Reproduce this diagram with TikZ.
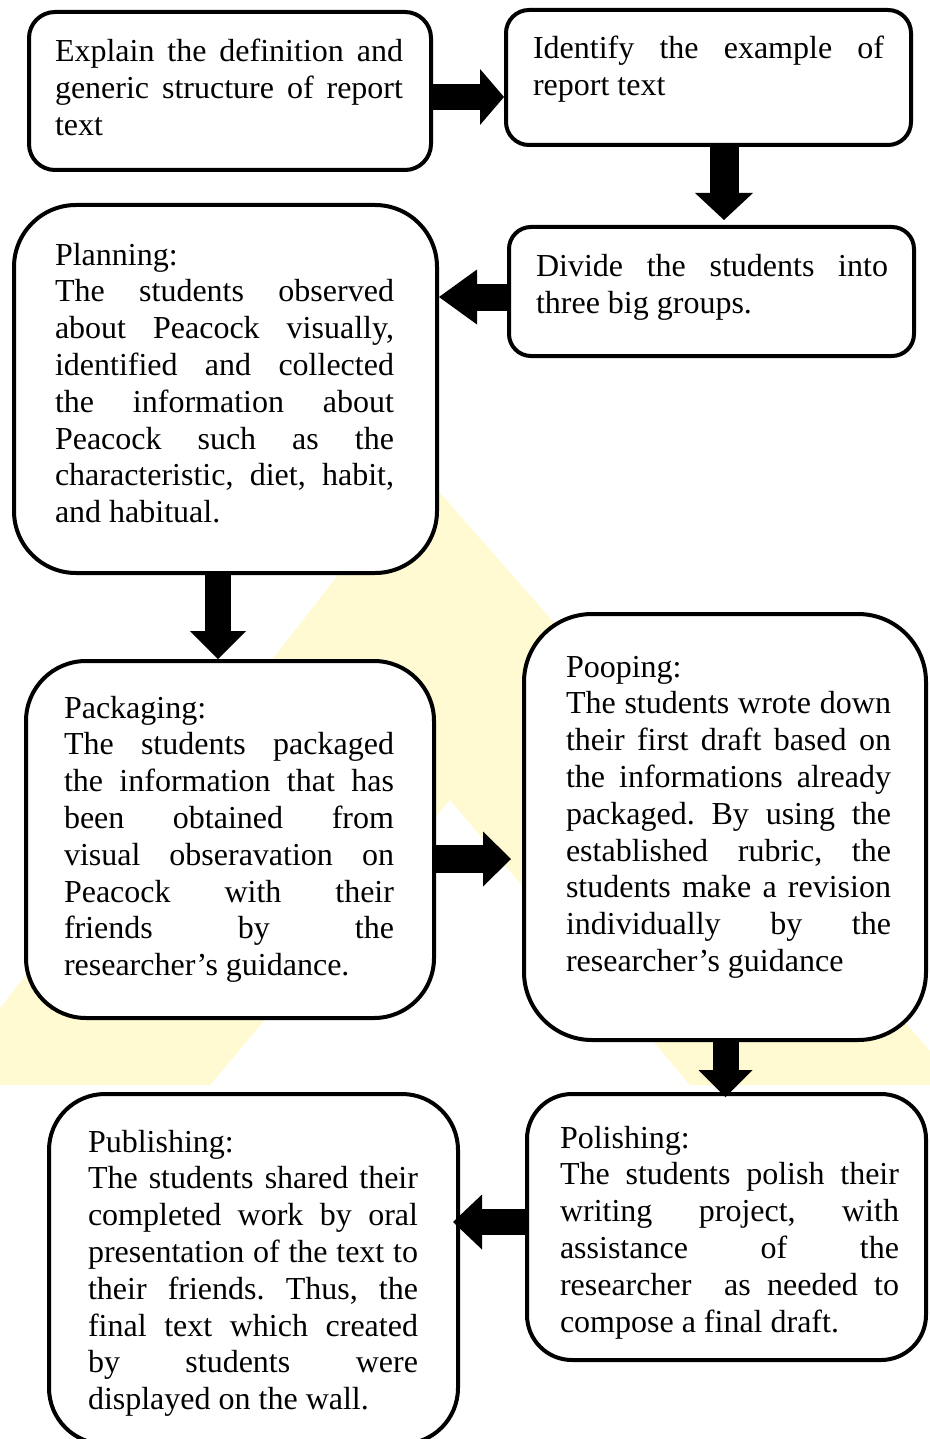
\documentclass[tikz,border=0pt]{standalone}
\usepackage{fontspec}
\setmainfont{Liberation Serif}
\usetikzlibrary{arrows.meta}
\definecolor{wmyellow}{RGB}{255,250,210}
\tolerance=10000
\hbadness=10000
\frenchspacing
\begin{document}
\begin{tikzpicture}[x=0.5pt,y=-0.5pt,
  box/.style={draw, line width=2pt, fill=white, inner sep=0pt, rectangle},
  txt/.style={anchor=base west, inner sep=0pt, outer sep=0pt, align=justify,
    font=\fontsize{16pt}{18.4pt}\selectfont},
  blkarrow/.style n args={3}{line width=#1,
    -{Triangle[length=#3, width=#2, line width=0pt]}}]
\useasboundingbox (0,0) rectangle (930,1439);

% faint watermark triangle
\fill[wmyellow, even odd rule] (420,470) -- (-60,1085) -- (960,1085) -- cycle
  (450,800) -- (210,1085) -- (690,1085) -- cycle;

% boxes
\node[box, minimum width=201pt, minimum height=79pt, rounded corners=13pt] (b1) at (230,91) {};
\node[box, minimum width=202.5pt, minimum height=67.5pt, rounded corners=11.5pt] (b2) at (708.5,77.5) {};
\node[box, minimum width=202.5pt, minimum height=64.5pt, rounded corners=11pt] (b3) at (711.5,291.5) {};
\node[box, minimum width=211.5pt, minimum height=184pt, rounded corners=31pt] (b4) at (225.5,389) {};
\node[box, minimum width=204pt, minimum height=178.5pt, rounded corners=30pt] (b5) at (230,839.5) {};
\node[box, minimum width=201pt, minimum height=213pt, rounded corners=34pt] (b6) at (725,827) {};
\node[box, minimum width=204.5pt, minimum height=175pt, rounded corners=28pt] (b7) at (253.5,1269) {};
\node[box, minimum width=199.5pt, minimum height=133pt, rounded corners=22.5pt] (b8) at (726.5,1227) {};

% texts
\node[txt, text width=174pt] (t1) at (55,62)
  {Explain the definition and\linebreak generic structure of report\linebreak text};
\node[txt, text width=175.5pt] (t2) at (533,59)
  {Identify the example of\linebreak report text};
\node[txt, text width=176pt] (t3) at (536,277)
  {Divide the students into\linebreak three big groups.};
\node[txt, text width=169.5pt] (t4) at (55,265)
  {Planning:\par The students observed\linebreak about Peacock visually,\linebreak
   identified and collected\linebreak the information about\linebreak
   Peacock such as the\linebreak characteristic, diet, habit,\linebreak and habitual.};
\node[txt, text width=165pt] (t5) at (64,718)
  {Packaging:\par The students packaged\linebreak the information that has\linebreak
   been obtained from\linebreak visual obseravation on\linebreak
   Peacock with their\linebreak friends by the\linebreak researcher’s guidance.};
\node[txt, text width=162.5pt] (t6) at (566,677)
  {Pooping:\par The students wrote down\linebreak their first draft based on\linebreak
   the informations already\linebreak packaged. By using the\linebreak
   established rubric, the\linebreak students make a revision\linebreak
   individually by the\linebreak researcher’s guidance};
\node[txt, text width=165pt] (t7) at (88,1152)
  {Publishing:\par The students shared their\linebreak completed work by oral\linebreak
   presentation of the text to\linebreak their friends. Thus, the\linebreak
   final text which created\linebreak by students were\linebreak displayed on the wall.};
\node[txt, text width=169.5pt] (t8) at (560,1148)
  {Polishing:\par The students polish their\linebreak writing project, with\linebreak
   assistance of the\linebreak researcher\ \ as needed to\linebreak compose a final draft.};

% arrow guide coordinates
\coordinate (y1) at (0,97);
\coordinate (x2) at (724,0);
\coordinate (y3) at (0,297);
\coordinate (x4) at (218,0);
\coordinate (y5) at (0,859);
\coordinate (x6) at (725.5,0);
\coordinate (y7) at (0,1222);

% block arrows
\draw[blkarrow={13pt}{28pt}{12pt}] (b1.east |- y1) -- (b2.west |- y1);
\draw[blkarrow={14.5pt}{29pt}{13.5pt}, shorten >=2.5pt] (b2.south -| x2) -- (b3.north -| x2);
\draw[blkarrow={13.5pt}{27.5pt}{19pt}] (b3.west |- y3) -- (b4.east |- y3);
\draw[blkarrow={13pt}{28pt}{14pt}] (b4.south -| x4) -- (b5.north -| x4);
\draw[blkarrow={14pt}{27.5pt}{14pt}, shorten >=5.5pt] (b5.east |- y5) -- (b6.west |- y5);
\draw[blkarrow={13pt}{27pt}{13.5pt}, shorten >=-2.5pt] (b6.south -| x6) -- (b8.north -| x6);
\draw[blkarrow={13pt}{27.5pt}{14.5pt}, shorten >=-3.5pt] (b8.west |- y7) -- (b7.east |- y7);
\end{tikzpicture}
\end{document}
